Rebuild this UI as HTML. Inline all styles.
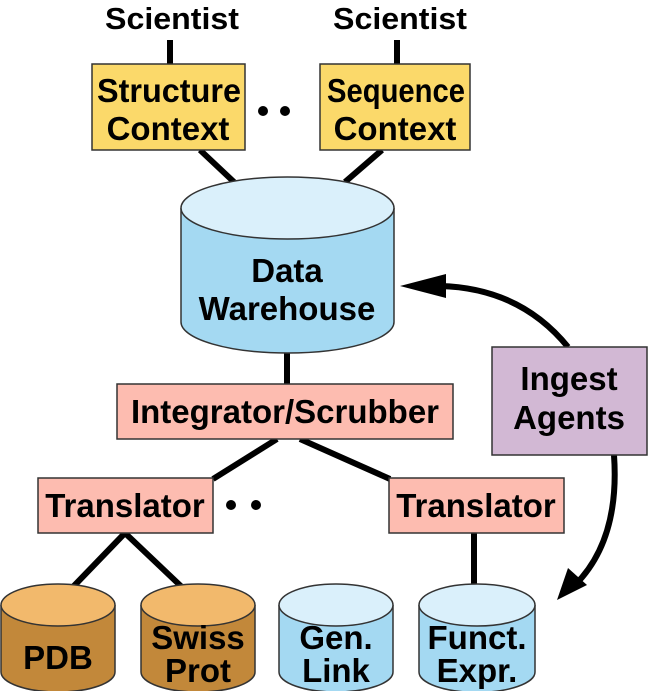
<!DOCTYPE html>
<html><head><style>body{margin:0;background:#fff}svg{display:block}text{font-family:"Liberation Sans",Arial,sans-serif;font-weight:bold;fill:#000;text-anchor:middle}</style></head>
<body>
<svg width="648" height="691" viewBox="0 0 648 691" xmlns="http://www.w3.org/2000/svg">
<g stroke="#000" stroke-width="6" fill="none">
<line x1="170" y1="40" x2="170" y2="64"/>
<line x1="397" y1="40" x2="397" y2="64"/>
<line x1="200" y1="150" x2="234" y2="182"/>
<line x1="382" y1="150" x2="345" y2="182"/>
<line x1="287" y1="352" x2="287" y2="385"/>
<line x1="277" y1="439" x2="213" y2="479"/>
<line x1="300" y1="439" x2="390" y2="479"/>
<line x1="125" y1="533" x2="70" y2="590"/>
<line x1="125" y1="533" x2="185" y2="590"/>
<line x1="474" y1="533" x2="474" y2="590"/>
<path d="M568 347 Q520 288 440 286"/>
<path d="M614 455 Q620 540 575 585"/>
</g>
<polygon points="400,286 446,274 446,298" fill="#000"/>
<polygon points="557,600 568,568 587,585" fill="#000"/>
<text x="172" y="29" font-size="31" textLength="134" lengthAdjust="spacingAndGlyphs">Scientist</text>
<text x="400" y="29" font-size="31" textLength="134" lengthAdjust="spacingAndGlyphs">Scientist</text>
<rect x="92" y="64" width="153" height="86" fill="#fbd96a" stroke="#333" stroke-width="1.5"/>
<text x="169" y="102" font-size="33" textLength="144" lengthAdjust="spacingAndGlyphs">Structure</text><text x="168" y="140" font-size="33">Context</text>
<rect x="320" y="64" width="150" height="86" fill="#fbd96a" stroke="#333" stroke-width="1.5"/>
<text x="396" y="102" font-size="33" textLength="138" lengthAdjust="spacingAndGlyphs">Sequence</text><text x="395" y="140" font-size="33">Context</text>
<circle cx="263" cy="111" r="5"/><circle cx="285" cy="111" r="5"/>
<path d="M181 208 L181 322 A106.5 31 0 0 0 394 322 L394 208" fill="#a4d9f2" stroke="#333" stroke-width="1.5"/>
<ellipse cx="287.5" cy="208" rx="106.5" ry="31" fill="#daf0fb" stroke="#333" stroke-width="1.5"/>
<text x="287" y="282" font-size="33">Data</text><text x="287" y="320" font-size="33">Warehouse</text>
<rect x="117" y="384" width="336" height="55" fill="#fdbcb0" stroke="#333" stroke-width="1.5"/>
<text x="285" y="423" font-size="33">Integrator/Scrubber</text>
<rect x="492" y="347" width="155" height="108" fill="#d2b8d4" stroke="#333" stroke-width="1.5"/>
<text x="569" y="390" font-size="33">Ingest</text><text x="569" y="429" font-size="33">Agents</text>
<rect x="38" y="478" width="175" height="55" fill="#fdbcb0" stroke="#333" stroke-width="1.5"/>
<text x="125" y="517" font-size="33">Translator</text>
<rect x="389" y="478" width="175" height="55" fill="#fdbcb0" stroke="#333" stroke-width="1.5"/>
<text x="476" y="517" font-size="33">Translator</text>
<circle cx="231" cy="505" r="5"/><circle cx="256" cy="505" r="5"/>
<g stroke="#333" stroke-width="1.5">
<path d="M1 605 L1 672 A57 20 0 0 0 115 672 L115 605" fill="#c2883a"/>
<ellipse cx="58" cy="605" rx="57" ry="21" fill="#f2b96c"/>
<path d="M141 605 L141 672 A57 20 0 0 0 255 672 L255 605" fill="#c2883a"/>
<ellipse cx="198" cy="605" rx="57" ry="21" fill="#f2b96c"/>
<path d="M279 605 L279 672 A57 20 0 0 0 393 672 L393 605" fill="#a4d9f2"/>
<ellipse cx="336" cy="605" rx="57" ry="21" fill="#daf0fb"/>
<path d="M419 605 L419 672 A57 20 0 0 0 535 672 L535 605" fill="#a4d9f2"/>
<ellipse cx="477" cy="605" rx="58" ry="21" fill="#daf0fb"/>
</g>
<text x="58" y="669" font-size="33">PDB</text>
<text x="198" y="649" font-size="33">Swiss</text><text x="198" y="682" font-size="33">Prot</text>
<text x="336" y="649" font-size="33">Gen.</text><text x="336" y="682" font-size="33">Link</text>
<text x="477" y="649" font-size="33">Funct.</text><text x="477" y="682" font-size="33">Expr.</text>
</svg>
</body></html>
